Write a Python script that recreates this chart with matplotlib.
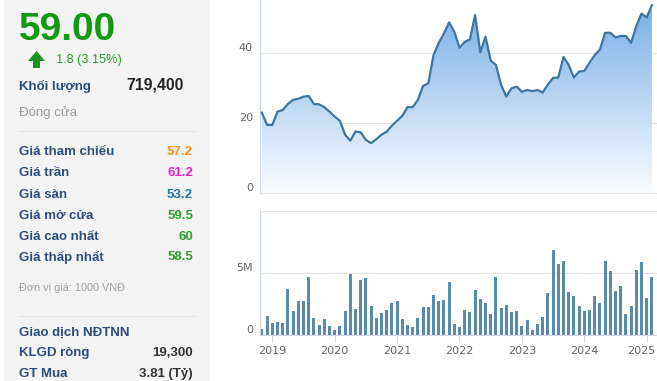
import numpy as np
import matplotlib
matplotlib.use("Agg")
import matplotlib.pyplot as plt
from matplotlib.patches import Rectangle, Polygon
from matplotlib.lines import Line2D
from matplotlib.colors import LinearSegmentedColormap
from matplotlib.transforms import ScaledTranslation

# Du lieu gia dong cua theo thang (nghin dong), tu 11/2018 den 02/2025
gia = [23.0, 19.5, 19.5, 23.3, 23.8, 25.5, 26.7, 27.0, 27.6, 27.8, 25.5, 25.4,
       24.6, 23.3, 21.9, 20.7, 16.7, 15.0, 17.6, 17.4, 15.2, 14.3, 15.4, 16.7,
       17.6, 19.3, 20.7, 22.1, 24.6, 24.6, 26.7, 30.7, 31.4, 39.5, 43.0, 45.7,
       48.9, 46.2, 41.6, 43.3, 44.0, 51.0, 40.3, 44.8, 37.9, 36.7, 31.0, 27.6,
       30.0, 30.5, 29.0, 29.5, 29.2, 29.5, 28.8, 31.1, 33.0, 33.1, 39.0, 36.7,
       33.1, 34.8, 35.0, 37.3, 39.5, 41.1, 45.9, 45.9, 44.6, 45.0, 45.0, 43.0,
       47.8, 51.4, 50.3, 53.8]

# Khoi luong giao dich (trieu co phieu)
khoi_luong = [0.49, 1.54, 0.97, 1.05, 0.97, 3.73, 1.95, 2.76, 2.76, 4.70, 1.41, 0.81,
              1.30, 0.73, 0.41, 0.73, 1.95, 4.95, 2.11, 4.46, 4.62, 2.35, 1.38, 1.78,
              2.03, 2.59, 2.76, 1.30, 0.81, 0.65, 1.38, 2.27, 2.27, 3.24, 2.76, 2.84,
              4.30, 0.89, 0.65, 2.03, 1.86, 3.65, 2.92, 2.59, 1.70, 4.70, 2.19, 2.43,
              1.86, 1.95, 0.73, 1.22, 0.41, 0.89, 1.46, 3.41, 6.89, 5.76, 6.00, 3.49,
              3.16, 2.35, 1.95, 2.03, 3.16, 2.59, 6.00, 5.19, 3.57, 3.97, 1.70, 2.35,
              5.27, 5.92, 3.00, 4.70]

nam = [2019, 2020, 2021, 2022, 2023, 2024, 2025]

# thong tin ben trai
nhan = ["Giá tham chiếu", "Giá trần", "Giá sàn", "Giá mở cửa", "Giá cao nhất", "Giá thấp nhất"]
gia_tri = ["57.2", "61.2", "53.2", "59.5", "60", "58.5"]
mau_gia_tri = ["#f7931e", "#e221d6", "#1c79a3", "#2ea02e", "#2ea02e", "#2ea02e"]

W, H = 657, 381
thang = 2018 + (10 + np.arange(len(gia))) / 12.0
vol = np.array(khoi_luong) * 1e6


def px(x, y):
    return x / W, 1 - y / H


fig = plt.figure(figsize=(W / 100, H / 100), dpi=100)
fig.patch.set_facecolor("white")
plt.rcParams["font.family"] = ["Liberation Sans", "DejaVu Sans"]

# nen xam panel trai
fig.add_artist(Rectangle(px(4, 381), 206 / W, 1, transform=fig.transFigure,
                         facecolor="#f4f4f4", edgecolor="none", zorder=0))

lbl = "#2b4d7d"
fig.text(*px(19, 40), "59.00", fontsize=28, fontweight="bold", color="#119a11", va="baseline")
# mui ten tang
mt = [(28, 61), (36.5, 51), (45, 61), (40, 61), (40, 68), (33, 68), (33, 61)]
fig.add_artist(Polygon([px(a, b) for a, b in mt], closed=True, transform=fig.transFigure,
                       facecolor="#1f8f1f", edgecolor="none"))
fig.text(*px(56, 60), "1.8 (3.15%)", fontsize=9.2, color="#2e9a2e", va="center")
fig.text(*px(19, 86), "Khối lượng", fontsize=9.5, fontweight="bold", color=lbl, va="center")
fig.text(*px(184, 85), "719,400", fontsize=11.4, fontweight="bold", color="#222222",
         va="center", ha="right")
fig.text(*px(19, 113), "Đóng cửa", fontsize=9.5, color="#9a9a9a", va="center")
fig.add_artist(Line2D([19 / W, 195 / W], [1 - 131 / H] * 2, transform=fig.transFigure,
                      color="#e3e3e3", lw=0.8))

ys = [152, 173, 195, 216, 236.5, 257.5]
for n, v, c, y in zip(nhan, gia_tri, mau_gia_tri, ys):
    fig.text(*px(19, y), n, fontsize=9.5, fontweight="bold", color=lbl, va="center")
    fig.text(*px(193, y), v, fontsize=9.5, fontweight="bold", color=c, va="center", ha="right")

fig.text(*px(19, 288), "Đơn vị giá: 1000 VNĐ", fontsize=7.8, color="#a0a0a0", va="center")
fig.add_artist(Line2D([19 / W, 195 / W], [1 - 316 / H] * 2, transform=fig.transFigure,
                      color="#e3e3e3", lw=0.8))
fig.text(*px(19, 333), "Giao dịch NĐTNN", fontsize=9.5, fontweight="bold", color=lbl, va="center")
fig.text(*px(19, 353), "KLGD ròng", fontsize=9.5, fontweight="bold", color=lbl, va="center")
fig.text(*px(193, 353), "19,300", fontsize=9.5, fontweight="bold", color="#333333",
         va="center", ha="right")
fig.text(*px(19, 374), "GT Mua", fontsize=9.5, fontweight="bold", color=lbl, va="center")
fig.text(*px(193, 374), "3.81 (Tỷ)", fontsize=9.5, fontweight="bold", color="#333333",
         va="center", ha="right")

# ---- bieu do gia ----
x0, x1 = 2018.803, 2025.165
ax = fig.add_axes([260 / W, 1 - 193 / H, 397 / W, 193 / H])
ymax = 55.3
cmap = LinearSegmentedColormap.from_list("g", ["#fbfdff", "#76ade6"])
grad = np.linspace(0, 1, 256).reshape(-1, 1)
im = ax.imshow(grad, extent=[x0, x1, 0, ymax], origin="lower", aspect="auto",
               cmap=cmap, zorder=1)
vung = Polygon(np.column_stack([np.r_[thang, thang[-1], thang[0]],
                                np.r_[gia, 0, 0]]), closed=True,
               facecolor="none", edgecolor="none")
ax.add_patch(vung)
im.set_clip_path(vung)
ax.plot(thang, gia, color="#3c76a2", lw=1.6, zorder=3)
ax.set_xlim(x0, x1)
ax.set_ylim(0, ymax)
ax.set_yticks([0, 20, 40])
ax.set_xticks([])
ax.grid(axis="y", color="#e3e3e3", lw=0.8)
ax.set_axisbelow(True)
for s in ["top", "right"]:
    ax.spines[s].set_visible(False)
ax.spines["left"].set_color("#ccd6eb")
ax.spines["bottom"].set_color("#e3e3e3")
ax.tick_params(axis="y", length=0, pad=5, labelsize=8, labelcolor="#666666")
for t in ax.get_yticklabels():
    t.set_fontfamily("DejaVu Sans")
    t.set_va("bottom")
ax.set_facecolor("none")

# ---- bieu do khoi luong ----
ax2 = fig.add_axes([260 / W, 1 - 335 / H, 397 / W, 124 / H])
ax2.bar(thang, vol, width=0.05, color="#5a8ca9", zorder=2)
ax2.set_xlim(x0, x1)
ax2.set_ylim(0, 10e6)
ax2.set_yticks([0, 5e6, 10e6])
ax2.set_yticklabels(["0", "5M", ""])
ax2.grid(axis="y", color="#e3e3e3", lw=0.8)
ax2.set_axisbelow(True)
ax2.set_xticks(nam)
ax2.set_xticklabels([str(n) for n in nam])
ax2.spines["right"].set_visible(False)
ax2.spines["top"].set_visible(False)
ax2.spines["left"].set_color("#ccd6eb")
ax2.spines["bottom"].set_color("#ccd6eb")
ax2.tick_params(axis="y", length=0, pad=5, labelsize=8, labelcolor="#666666")
ax2.tick_params(axis="x", length=5, width=0.8, color="#ccd6eb", pad=3,
                labelsize=8, labelcolor="#666666")
for t in ax2.get_yticklabels():
    t.set_fontfamily("DejaVu Sans")
    t.set_va("bottom")
xl = ax2.get_xticklabels()
for t in xl:
    t.set_fontfamily("DejaVu Sans")
# nhan 2025 day vao trong de khong bi cat
xl[-1].set_transform(xl[-1].get_transform() + ScaledTranslation(-0.05, 0, fig.dpi_scale_trans))
ax2.set_facecolor("none")

fig.savefig("out.png", dpi=100)
